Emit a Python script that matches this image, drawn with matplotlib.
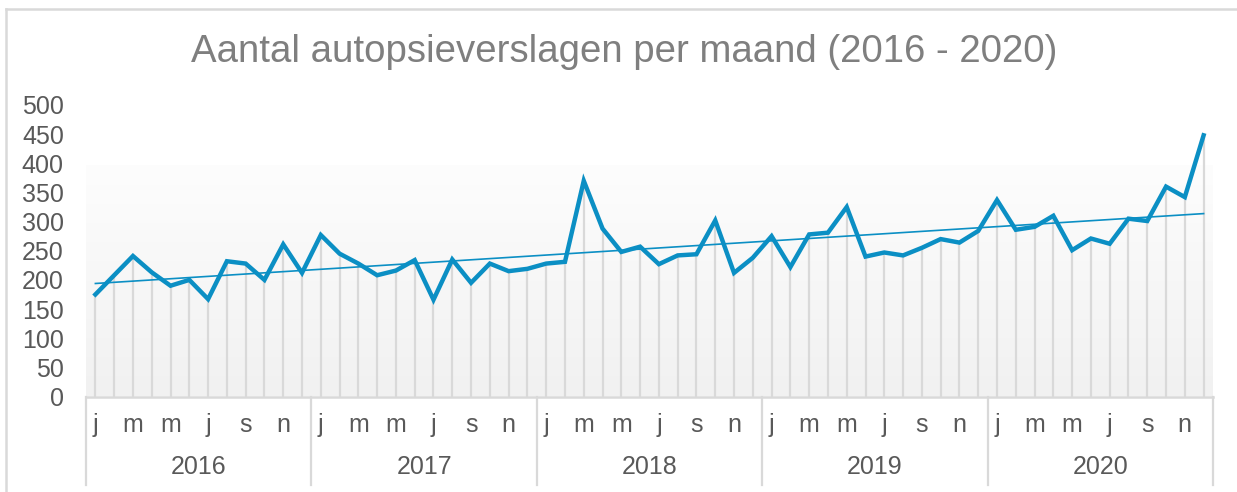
import numpy as np
import matplotlib
matplotlib.use("Agg")
import matplotlib.pyplot as plt
from matplotlib.lines import Line2D
from matplotlib.colors import LinearSegmentedColormap

plt.rcParams["font.family"] = ["Liberation Sans", "DejaVu Sans"]

# aantal autopsieverslagen per maand
years = ["2016", "2017", "2018", "2019", "2020"]
month_letters = ["j", "m", "m", "j", "s", "n"]   # jan, mrt, mei, jul, sep, nov
v2016 = [175, 208, 241, 213, 190, 200, 167, 232, 228, 200, 261, 212]
v2017 = [277, 245, 228, 208, 216, 234, 166, 235, 195, 228, 215, 219]
v2018 = [228, 231, 370, 288, 248, 257, 227, 242, 244, 302, 212, 238]
v2019 = [275, 222, 278, 281, 325, 240, 247, 242, 255, 270, 264, 284]
v2020 = [337, 286, 291, 310, 251, 271, 262, 305, 301, 360, 342, 448]

values = np.array(v2016 + v2017 + v2018 + v2019 + v2020, dtype=float)
x = np.arange(len(values))

W, H = 1237, 492
fig = plt.figure(figsize=(W / 100, H / 100), dpi=100)

# rand van de grafiek (loopt rechts en onder door)
border = "#d9d9d9"
fig.add_artist(Line2D([6 / W, 6 / W], [0, 1 - 9 / H], color=border, lw=1.8))
fig.add_artist(Line2D([6 / W, 1], [1 - 9 / H, 1 - 9 / H], color=border, lw=1.8))

left, right = 86, 1213
top, bottom = 105, 396.5
ax = fig.add_axes([left / W, 1 - bottom / H, (right - left) / W, (bottom - top) / H])
ax.set_xlim(-0.5, len(values) - 0.5)
ax.set_ylim(0, 500)
for s in ax.spines.values():
    s.set_visible(False)

# achtergrond met verloop
cmap = LinearSegmentedColormap.from_list("bg", ["#f1f1f1", "#fdfdfd"])
grad = np.linspace(0, 1, 256).reshape(-1, 1)
ax.imshow(grad, extent=(-0.5, len(values) - 0.5, 0, 395), origin="lower",
          aspect="auto", cmap=cmap, zorder=0, interpolation="bicubic")

# verticale lijnen naar de as
ax.vlines(x, 0, values, color="#d9d9d9", lw=1.6, zorder=1)

blue = "#0b8fc4"
ax.plot(x, values, color=blue, lw=3.2, solid_joinstyle="miter", zorder=3)

# lineaire trendlijn
a, b = np.polyfit(x, values, 1)
ax.plot(x, a * x + b, color=blue, lw=1.2, zorder=2)

fs = 18
ax.set_yticks(range(0, 501, 50))
ax.tick_params(axis="y", length=0, pad=16, labelsize=fs, labelcolor="#595959")
ax.set_xticks([])

# as-lijn en categorie-vakken
ax.axhline(0, color=border, lw=1.8, zorder=4, clip_on=False)
ay = lambda ypix: (bottom - ypix) / (bottom - top)
for k in range(len(years) + 1):
    xs = k * 12 - 0.5
    ax.add_artist(Line2D([xs, xs], [0, ay(485)], color=border, lw=1.6,
                         transform=ax.get_xaxis_transform(), clip_on=False))
for k, yr in enumerate(years):
    for j, m in enumerate(month_letters):
        ax.text(k * 12 + 2 * j, ay(425), m, ha="center", va="center",
                fontsize=fs, color="#595959", transform=ax.get_xaxis_transform())
    ax.text(k * 12 + 5.5, ay(467), yr, ha="center", va="center",
            fontsize=fs, color="#595959", transform=ax.get_xaxis_transform())

fig.text(624.5 / W, 1 - 52 / H, "Aantal autopsieverslagen per maand (2016 - 2020)",
         ha="center", va="center", fontsize=27.6, color="#7f7f7f")

fig.savefig("out.png", dpi=100)
